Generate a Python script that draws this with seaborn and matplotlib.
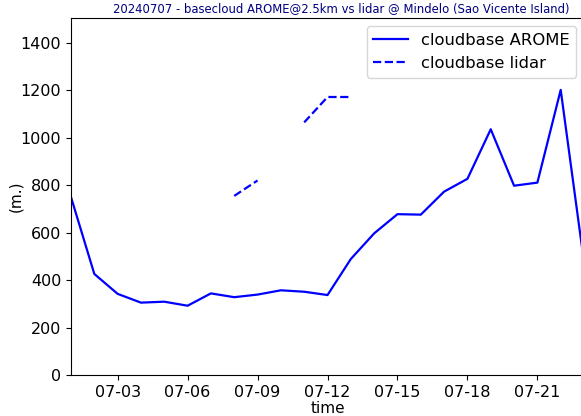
import matplotlib
matplotlib.use("Agg")
import matplotlib.pyplot as plt
import matplotlib.dates as mdates
from matplotlib.lines import Line2D
import seaborn as sns
import pandas as pd
import numpy as np

# daily values, july 2024
days = pd.date_range("2024-07-01", "2024-07-23", freq="D")
arome = [750, 426, 342, 305, 309, 292, 344, 328, 339, 357, 351, 337,
         489, 597, 678, 676, 773, 827, 1036, 798, 811, 1202, 475]
lidar = [np.nan, np.nan, np.nan, np.nan, np.nan, np.nan, np.nan, 755, 820, np.nan,
         1065, 1172, 1172, np.nan, np.nan, np.nan, np.nan, np.nan, np.nan, np.nan,
         np.nan, np.nan, np.nan]

df = pd.DataFrame({"time": days, "arome": arome, "lidar": lidar})
# split lidar into continuous pieces so gaps are not joined
df["seg"] = df["lidar"].isna().cumsum()
lid = df.dropna(subset=["lidar"])

fig = plt.figure(figsize=(5.81, 4.16), dpi=100)
ax = fig.add_axes([0.1222, 0.0986, 0.883, 0.8581])

sns.lineplot(data=df, x="time", y="arome", color="blue", lw=1.6, ax=ax)
sns.lineplot(data=lid, x="time", y="lidar", units="seg", estimator=None,
             color="blue", lw=1.6, ls="--", ax=ax)

ax.set_xlim(days[0], days[-1])
ax.set_ylim(0, 1505)
ax.xaxis.set_major_locator(mdates.DayLocator(bymonthday=[3, 6, 9, 12, 15, 18, 21]))
ax.xaxis.set_major_formatter(mdates.DateFormatter("%m-%d"))
ax.tick_params(labelsize=11.5)
ax.set_xlabel("time", fontsize=11, labelpad=1)
ax.set_ylabel("(m.)", fontsize=11, labelpad=-2)
# original figure was cropped on the right, title sits a bit right of axes centre
ax.set_title("20240707 - basecloud AROME@2.5km vs lidar @ Mindelo (Sao Vicente Island)",
             fontsize=8.4, color="navy", pad=4, x=0.526)

handles = [Line2D([], [], color="blue", lw=1.6),
           Line2D([], [], color="blue", lw=1.6, ls="--")]
ax.legend(handles, ["cloudbase AROME", "cloudbase lidar"],
          loc="upper right", fontsize=11.8, handlelength=2.1)

fig.savefig("out.png", dpi=100)
